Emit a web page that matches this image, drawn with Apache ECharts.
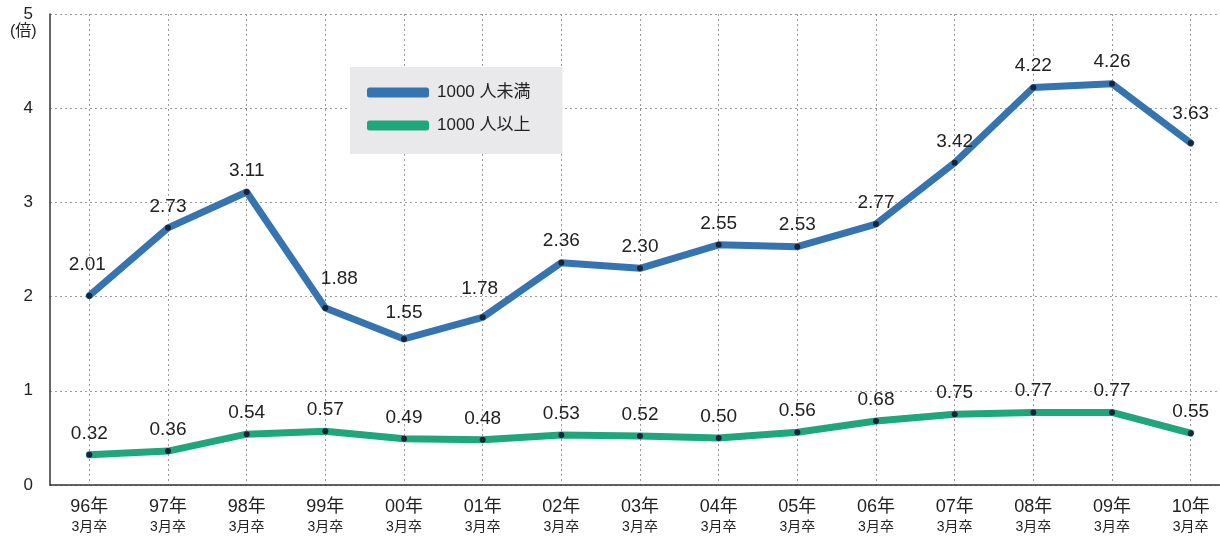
<!DOCTYPE html>
<html>
<head>
<meta charset="utf-8">
<script src="https://cdn.jsdelivr.net/npm/echarts@6/dist/echarts.min.js"></script>
<style>
html, body { margin: 0; padding: 0; background: #fff; }
#main { width: 1220px; height: 536px; }
</style>
</head>
<body>
<div id="main"></div>
<script>
var years = ['96', '97', '98', '99', '00', '01', '02', '03', '04', '05', '06', '07', '08', '09', '10'];
var under1000 = [2.01, 2.73, 3.11, 1.88, 1.55, 1.78, 2.36, 2.30, 2.55, 2.53, 2.77, 3.42, 4.22, 4.26, 3.63];
var over1000 = [0.32, 0.36, 0.54, 0.57, 0.49, 0.48, 0.53, 0.52, 0.50, 0.56, 0.68, 0.75, 0.77, 0.77, 0.55];
var yTicks = [0, 1, 2, 3, 4, 5];

var font = '"Liberation Sans", "Noto Sans CJK JP", sans-serif';
var blue = '#3574b0';
var green = '#20a67b';
var dot = '#17243a';

// a few labels sit a bit higher / to the side in the original
var blueNudge = { 0: [-2, -9], 3: [14, -8], 4: [0, -5], 5: [-3, -7], 14: [0, -8] };

var chartDom = document.getElementById('main');
var chart = echarts.init(chartDom);
var option;

function labelFmt(p) {
    return p.value.toFixed(2);
}

function withNudge(values, nudge) {
    return values.map(function (v, i) {
        if (!nudge[i]) return v;
        return { value: v, label: { offset: nudge[i] } };
    });
}

option = {
    backgroundColor: '#fff',
    textStyle: { fontFamily: font },
    animation: false,
    grid: { left: 50, width: 1180, top: 14, bottom: 51, outerBoundsMode: 'none', containLabel: false },
    legend: {
        orient: 'vertical',
        left: 350,
        top: 67,
        padding: [17, 32, 20, 17],
        backgroundColor: '#e9e9eb',
        itemGap: 16,
        itemWidth: 62,
        itemHeight: 10,
        icon: 'roundRect',
        textStyle: { fontSize: 17, color: '#222', fontFamily: font, padding: [0, 0, 0, 3] },
        data: [
            { name: '1000 人未満', itemStyle: { color: blue } },
            { name: '1000 人以上', itemStyle: { color: green } }
        ]
    },
    graphic: [{
        type: 'text',
        left: 10,
        top: 24,
        style: { text: '(倍)', fontSize: 16, fill: '#222', fontFamily: font }
    }],
    xAxis: {
        type: 'category',
        data: years,
        boundaryGap: true,
        axisLine: { lineStyle: { color: '#333', width: 1.5 } },
        axisTick: { show: false },
        splitLine: {
            show: true,
            alignWithLabel: true,
            lineStyle: { color: '#999', type: [2, 3], width: 1 }
        },
        axisLabel: {
            margin: 12,
            color: '#222',
            formatter: function (v) { return '{a|' + v + '年}\n{b|3月卒}'; },
            rich: {
                a: { fontSize: 18, lineHeight: 21, color: '#222', fontFamily: font },
                b: { fontSize: 14, lineHeight: 19, color: '#222', fontFamily: font }
            }
        }
    },
    yAxis: {
        type: 'value',
        min: yTicks[0],
        max: yTicks[yTicks.length - 1],
        interval: 1,
        axisLine: { show: true, lineStyle: { color: '#333', width: 1.5 } },
        axisTick: { show: false },
        axisLabel: { color: '#222', fontSize: 17, margin: 17, fontFamily: font },
        splitLine: { lineStyle: { color: '#999', type: [2, 3], width: 1 } }
    },
    series: [{
        name: '1000 人未満',
        type: 'line',
        data: withNudge(under1000, blueNudge),
        color: blue,
        lineStyle: { width: 7, color: blue, cap: 'round', join: 'round' },
        symbol: 'circle',
        symbolSize: 6,
        itemStyle: { color: dot },
        label: {
            show: true, position: 'top', distance: 9,
            fontSize: 19, color: '#222', formatter: labelFmt, fontFamily: font
        },
        z: 3
    }, {
        name: '1000 人以上',
        type: 'line',
        data: over1000,
        color: green,
        lineStyle: { width: 7, color: green, cap: 'round', join: 'round' },
        symbol: 'circle',
        symbolSize: 6,
        itemStyle: { color: dot },
        label: {
            show: true, position: 'top', distance: 9,
            fontSize: 19, color: '#222', formatter: labelFmt, fontFamily: font
        },
        z: 3
    }]
};

chart.setOption(option);
</script>
</body>
</html>
